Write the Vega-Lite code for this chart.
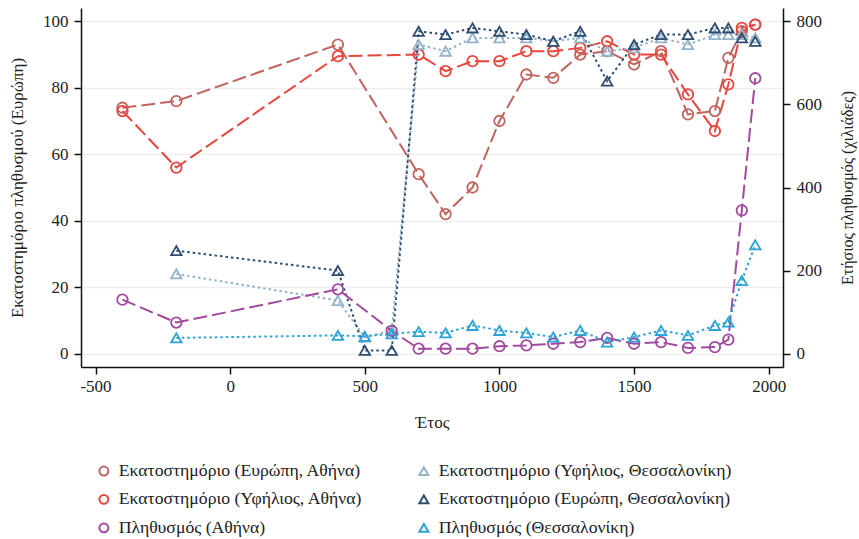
{
  "$schema": "https://vega.github.io/schema/vega-lite/v6.json",
  "width": 702,
  "height": 359,
  "autosize": {"type": "none"},
  "padding": {"left": 81, "top": 8, "right": 76, "bottom": 172},
  "background": "white",
  "config": {
    "font": "Liberation Serif",
    "view": {"stroke": null},
    "axis": {
      "labelFont": "Liberation Serif",
      "titleFont": "Liberation Serif",
      "labelFontSize": 17,
      "titleFontSize": 17,
      "titleFontWeight": "normal",
      "labelColor": "#222222",
      "titleColor": "#222222",
      "domainColor": "#111111",
      "domainWidth": 1.5,
      "tickColor": "#111111",
      "tickWidth": 1.5,
      "tickSize": 7,
      "grid": false
    }
  },
  "datasets": {
    "pct": [
      {"s": "Εκατοστημόριο (Ευρώπη, Αθήνα)", "city": "Αθήνα", "year": -400, "v": 74},
      {"s": "Εκατοστημόριο (Ευρώπη, Αθήνα)", "city": "Αθήνα", "year": -200, "v": 76},
      {"s": "Εκατοστημόριο (Ευρώπη, Αθήνα)", "city": "Αθήνα", "year": 400, "v": 93},
      {"s": "Εκατοστημόριο (Ευρώπη, Αθήνα)", "city": "Αθήνα", "year": 700, "v": 54},
      {"s": "Εκατοστημόριο (Ευρώπη, Αθήνα)", "city": "Αθήνα", "year": 800, "v": 42},
      {"s": "Εκατοστημόριο (Ευρώπη, Αθήνα)", "city": "Αθήνα", "year": 900, "v": 50},
      {"s": "Εκατοστημόριο (Ευρώπη, Αθήνα)", "city": "Αθήνα", "year": 1000, "v": 70},
      {"s": "Εκατοστημόριο (Ευρώπη, Αθήνα)", "city": "Αθήνα", "year": 1100, "v": 84},
      {"s": "Εκατοστημόριο (Ευρώπη, Αθήνα)", "city": "Αθήνα", "year": 1200, "v": 83},
      {"s": "Εκατοστημόριο (Ευρώπη, Αθήνα)", "city": "Αθήνα", "year": 1300, "v": 90},
      {"s": "Εκατοστημόριο (Ευρώπη, Αθήνα)", "city": "Αθήνα", "year": 1400, "v": 91},
      {"s": "Εκατοστημόριο (Ευρώπη, Αθήνα)", "city": "Αθήνα", "year": 1500, "v": 87},
      {"s": "Εκατοστημόριο (Ευρώπη, Αθήνα)", "city": "Αθήνα", "year": 1600, "v": 91},
      {"s": "Εκατοστημόριο (Ευρώπη, Αθήνα)", "city": "Αθήνα", "year": 1700, "v": 72},
      {"s": "Εκατοστημόριο (Ευρώπη, Αθήνα)", "city": "Αθήνα", "year": 1800, "v": 73},
      {"s": "Εκατοστημόριο (Ευρώπη, Αθήνα)", "city": "Αθήνα", "year": 1850, "v": 89},
      {"s": "Εκατοστημόριο (Ευρώπη, Αθήνα)", "city": "Αθήνα", "year": 1900, "v": 97},
      {"s": "Εκατοστημόριο (Ευρώπη, Αθήνα)", "city": "Αθήνα", "year": 1950, "v": 99},
      {"s": "Εκατοστημόριο (Υφήλιος, Αθήνα)", "city": "Αθήνα", "year": -400, "v": 73},
      {"s": "Εκατοστημόριο (Υφήλιος, Αθήνα)", "city": "Αθήνα", "year": -200, "v": 56},
      {"s": "Εκατοστημόριο (Υφήλιος, Αθήνα)", "city": "Αθήνα", "year": 400, "v": 89.5},
      {"s": "Εκατοστημόριο (Υφήλιος, Αθήνα)", "city": "Αθήνα", "year": 700, "v": 90},
      {"s": "Εκατοστημόριο (Υφήλιος, Αθήνα)", "city": "Αθήνα", "year": 800, "v": 85},
      {"s": "Εκατοστημόριο (Υφήλιος, Αθήνα)", "city": "Αθήνα", "year": 900, "v": 88},
      {"s": "Εκατοστημόριο (Υφήλιος, Αθήνα)", "city": "Αθήνα", "year": 1000, "v": 88},
      {"s": "Εκατοστημόριο (Υφήλιος, Αθήνα)", "city": "Αθήνα", "year": 1100, "v": 91},
      {"s": "Εκατοστημόριο (Υφήλιος, Αθήνα)", "city": "Αθήνα", "year": 1200, "v": 91},
      {"s": "Εκατοστημόριο (Υφήλιος, Αθήνα)", "city": "Αθήνα", "year": 1300, "v": 92},
      {"s": "Εκατοστημόριο (Υφήλιος, Αθήνα)", "city": "Αθήνα", "year": 1400, "v": 94},
      {"s": "Εκατοστημόριο (Υφήλιος, Αθήνα)", "city": "Αθήνα", "year": 1500, "v": 90},
      {"s": "Εκατοστημόριο (Υφήλιος, Αθήνα)", "city": "Αθήνα", "year": 1600, "v": 90},
      {"s": "Εκατοστημόριο (Υφήλιος, Αθήνα)", "city": "Αθήνα", "year": 1700, "v": 78},
      {"s": "Εκατοστημόριο (Υφήλιος, Αθήνα)", "city": "Αθήνα", "year": 1800, "v": 67},
      {"s": "Εκατοστημόριο (Υφήλιος, Αθήνα)", "city": "Αθήνα", "year": 1850, "v": 81},
      {"s": "Εκατοστημόριο (Υφήλιος, Αθήνα)", "city": "Αθήνα", "year": 1900, "v": 98},
      {"s": "Εκατοστημόριο (Υφήλιος, Αθήνα)", "city": "Αθήνα", "year": 1950, "v": 99},
      {"s": "Εκατοστημόριο (Υφήλιος, Θεσσαλονίκη)", "city": "Θεσσαλονίκη", "year": -200, "v": 24},
      {"s": "Εκατοστημόριο (Υφήλιος, Θεσσαλονίκη)", "city": "Θεσσαλονίκη", "year": 400, "v": 16},
      {"s": "Εκατοστημόριο (Υφήλιος, Θεσσαλονίκη)", "city": "Θεσσαλονίκη", "year": 500, "v": 5},
      {"s": "Εκατοστημόριο (Υφήλιος, Θεσσαλονίκη)", "city": "Θεσσαλονίκη", "year": 600, "v": 7},
      {"s": "Εκατοστημόριο (Υφήλιος, Θεσσαλονίκη)", "city": "Θεσσαλονίκη", "year": 700, "v": 93},
      {"s": "Εκατοστημόριο (Υφήλιος, Θεσσαλονίκη)", "city": "Θεσσαλονίκη", "year": 800, "v": 91},
      {"s": "Εκατοστημόριο (Υφήλιος, Θεσσαλονίκη)", "city": "Θεσσαλονίκη", "year": 900, "v": 95},
      {"s": "Εκατοστημόριο (Υφήλιος, Θεσσαλονίκη)", "city": "Θεσσαλονίκη", "year": 1000, "v": 95},
      {"s": "Εκατοστημόριο (Υφήλιος, Θεσσαλονίκη)", "city": "Θεσσαλονίκη", "year": 1100, "v": 95},
      {"s": "Εκατοστημόριο (Υφήλιος, Θεσσαλονίκη)", "city": "Θεσσαλονίκη", "year": 1200, "v": 94},
      {"s": "Εκατοστημόριο (Υφήλιος, Θεσσαλονίκη)", "city": "Θεσσαλονίκη", "year": 1300, "v": 95},
      {"s": "Εκατοστημόριο (Υφήλιος, Θεσσαλονίκη)", "city": "Θεσσαλονίκη", "year": 1400, "v": 91},
      {"s": "Εκατοστημόριο (Υφήλιος, Θεσσαλονίκη)", "city": "Θεσσαλονίκη", "year": 1500, "v": 92},
      {"s": "Εκατοστημόριο (Υφήλιος, Θεσσαλονίκη)", "city": "Θεσσαλονίκη", "year": 1600, "v": 95},
      {"s": "Εκατοστημόριο (Υφήλιος, Θεσσαλονίκη)", "city": "Θεσσαλονίκη", "year": 1700, "v": 93},
      {"s": "Εκατοστημόριο (Υφήλιος, Θεσσαλονίκη)", "city": "Θεσσαλονίκη", "year": 1800, "v": 96},
      {"s": "Εκατοστημόριο (Υφήλιος, Θεσσαλονίκη)", "city": "Θεσσαλονίκη", "year": 1850, "v": 96},
      {"s": "Εκατοστημόριο (Υφήλιος, Θεσσαλονίκη)", "city": "Θεσσαλονίκη", "year": 1900, "v": 96},
      {"s": "Εκατοστημόριο (Υφήλιος, Θεσσαλονίκη)", "city": "Θεσσαλονίκη", "year": 1950, "v": 95},
      {"s": "Εκατοστημόριο (Ευρώπη, Θεσσαλονίκη)", "city": "Θεσσαλονίκη", "year": -200, "v": 31},
      {"s": "Εκατοστημόριο (Ευρώπη, Θεσσαλονίκη)", "city": "Θεσσαλονίκη", "year": 400, "v": 25},
      {"s": "Εκατοστημόριο (Ευρώπη, Θεσσαλονίκη)", "city": "Θεσσαλονίκη", "year": 500, "v": 1},
      {"s": "Εκατοστημόριο (Ευρώπη, Θεσσαλονίκη)", "city": "Θεσσαλονίκη", "year": 600, "v": 1},
      {"s": "Εκατοστημόριο (Ευρώπη, Θεσσαλονίκη)", "city": "Θεσσαλονίκη", "year": 700, "v": 97},
      {"s": "Εκατοστημόριο (Ευρώπη, Θεσσαλονίκη)", "city": "Θεσσαλονίκη", "year": 800, "v": 96},
      {"s": "Εκατοστημόριο (Ευρώπη, Θεσσαλονίκη)", "city": "Θεσσαλονίκη", "year": 900, "v": 98},
      {"s": "Εκατοστημόριο (Ευρώπη, Θεσσαλονίκη)", "city": "Θεσσαλονίκη", "year": 1000, "v": 97},
      {"s": "Εκατοστημόριο (Ευρώπη, Θεσσαλονίκη)", "city": "Θεσσαλονίκη", "year": 1100, "v": 96},
      {"s": "Εκατοστημόριο (Ευρώπη, Θεσσαλονίκη)", "city": "Θεσσαλονίκη", "year": 1200, "v": 94},
      {"s": "Εκατοστημόριο (Ευρώπη, Θεσσαλονίκη)", "city": "Θεσσαλονίκη", "year": 1300, "v": 97},
      {"s": "Εκατοστημόριο (Ευρώπη, Θεσσαλονίκη)", "city": "Θεσσαλονίκη", "year": 1400, "v": 82},
      {"s": "Εκατοστημόριο (Ευρώπη, Θεσσαλονίκη)", "city": "Θεσσαλονίκη", "year": 1500, "v": 93},
      {"s": "Εκατοστημόριο (Ευρώπη, Θεσσαλονίκη)", "city": "Θεσσαλονίκη", "year": 1600, "v": 96},
      {"s": "Εκατοστημόριο (Ευρώπη, Θεσσαλονίκη)", "city": "Θεσσαλονίκη", "year": 1700, "v": 96},
      {"s": "Εκατοστημόριο (Ευρώπη, Θεσσαλονίκη)", "city": "Θεσσαλονίκη", "year": 1800, "v": 98},
      {"s": "Εκατοστημόριο (Ευρώπη, Θεσσαλονίκη)", "city": "Θεσσαλονίκη", "year": 1850, "v": 98},
      {"s": "Εκατοστημόριο (Ευρώπη, Θεσσαλονίκη)", "city": "Θεσσαλονίκη", "year": 1900, "v": 95},
      {"s": "Εκατοστημόριο (Ευρώπη, Θεσσαλονίκη)", "city": "Θεσσαλονίκη", "year": 1950, "v": 94}
    ],
    "pop": [
      {"s": "Πληθυσμός (Αθήνα)", "city": "Αθήνα", "year": -400, "v": 130},
      {"s": "Πληθυσμός (Αθήνα)", "city": "Αθήνα", "year": -200, "v": 75},
      {"s": "Πληθυσμός (Αθήνα)", "city": "Αθήνα", "year": 400, "v": 155},
      {"s": "Πληθυσμός (Αθήνα)", "city": "Αθήνα", "year": 600, "v": 55},
      {"s": "Πληθυσμός (Αθήνα)", "city": "Αθήνα", "year": 700, "v": 12},
      {"s": "Πληθυσμός (Αθήνα)", "city": "Αθήνα", "year": 800, "v": 12},
      {"s": "Πληθυσμός (Αθήνα)", "city": "Αθήνα", "year": 900, "v": 12},
      {"s": "Πληθυσμός (Αθήνα)", "city": "Αθήνα", "year": 1000, "v": 18},
      {"s": "Πληθυσμός (Αθήνα)", "city": "Αθήνα", "year": 1100, "v": 20},
      {"s": "Πληθυσμός (Αθήνα)", "city": "Αθήνα", "year": 1200, "v": 24},
      {"s": "Πληθυσμός (Αθήνα)", "city": "Αθήνα", "year": 1300, "v": 28},
      {"s": "Πληθυσμός (Αθήνα)", "city": "Αθήνα", "year": 1400, "v": 38},
      {"s": "Πληθυσμός (Αθήνα)", "city": "Αθήνα", "year": 1500, "v": 24},
      {"s": "Πληθυσμός (Αθήνα)", "city": "Αθήνα", "year": 1600, "v": 28},
      {"s": "Πληθυσμός (Αθήνα)", "city": "Αθήνα", "year": 1700, "v": 14},
      {"s": "Πληθυσμός (Αθήνα)", "city": "Αθήνα", "year": 1800, "v": 16},
      {"s": "Πληθυσμός (Αθήνα)", "city": "Αθήνα", "year": 1850, "v": 34},
      {"s": "Πληθυσμός (Αθήνα)", "city": "Αθήνα", "year": 1900, "v": 345},
      {"s": "Πληθυσμός (Αθήνα)", "city": "Αθήνα", "year": 1950, "v": 663},
      {"s": "Πληθυσμός (Θεσσαλονίκη)", "city": "Θεσσαλονίκη", "year": -200, "v": 38},
      {"s": "Πληθυσμός (Θεσσαλονίκη)", "city": "Θεσσαλονίκη", "year": 400, "v": 44},
      {"s": "Πληθυσμός (Θεσσαλονίκη)", "city": "Θεσσαλονίκη", "year": 500, "v": 42},
      {"s": "Πληθυσμός (Θεσσαλονίκη)", "city": "Θεσσαλονίκη", "year": 600, "v": 48},
      {"s": "Πληθυσμός (Θεσσαλονίκη)", "city": "Θεσσαλονίκη", "year": 700, "v": 53},
      {"s": "Πληθυσμός (Θεσσαλονίκη)", "city": "Θεσσαλονίκη", "year": 800, "v": 50},
      {"s": "Πληθυσμός (Θεσσαλονίκη)", "city": "Θεσσαλονίκη", "year": 900, "v": 68},
      {"s": "Πληθυσμός (Θεσσαλονίκη)", "city": "Θεσσαλονίκη", "year": 1000, "v": 56},
      {"s": "Πληθυσμός (Θεσσαλονίκη)", "city": "Θεσσαλονίκη", "year": 1100, "v": 50},
      {"s": "Πληθυσμός (Θεσσαλονίκη)", "city": "Θεσσαλονίκη", "year": 1200, "v": 40},
      {"s": "Πληθυσμός (Θεσσαλονίκη)", "city": "Θεσσαλονίκη", "year": 1300, "v": 56},
      {"s": "Πληθυσμός (Θεσσαλονίκη)", "city": "Θεσσαλονίκη", "year": 1400, "v": 28},
      {"s": "Πληθυσμός (Θεσσαλονίκη)", "city": "Θεσσαλονίκη", "year": 1500, "v": 40},
      {"s": "Πληθυσμός (Θεσσαλονίκη)", "city": "Θεσσαλονίκη", "year": 1600, "v": 56},
      {"s": "Πληθυσμός (Θεσσαλονίκη)", "city": "Θεσσαλονίκη", "year": 1700, "v": 44},
      {"s": "Πληθυσμός (Θεσσαλονίκη)", "city": "Θεσσαλονίκη", "year": 1800, "v": 68},
      {"s": "Πληθυσμός (Θεσσαλονίκη)", "city": "Θεσσαλονίκη", "year": 1850, "v": 76},
      {"s": "Πληθυσμός (Θεσσαλονίκη)", "city": "Θεσσαλονίκη", "year": 1900, "v": 176},
      {"s": "Πληθυσμός (Θεσσαλονίκη)", "city": "Θεσσαλονίκη", "year": 1950, "v": 262}
    ]
  },
  "layer": [
    {
      "data": {"name": "pct"},
      "encoding": {
        "x": {
          "field": "year", "type": "quantitative",
          "scale": {"domain": [-554, 2053], "nice": false, "zero": false},
          "axis": {"values": [-500, 0, 500, 1000, 1500, 2000], "title": "Έτος", "labelExpr": "'' + datum.value", "labelPadding": 4, "titlePadding": 20}
        },
        "y": {
          "field": "v", "type": "quantitative",
          "scale": {"domain": [-4, 104], "nice": false, "zero": false},
          "axis": {"values": [0, 20, 40, 60, 80, 100], "title": "Εκατοστημόριο πληθυσμού (Ευρώπη)", "labelPadding": 6, "titlePadding": 16, "grid": true, "gridColor": "#eeeeee", "gridWidth": 1.5}
        }
      },
      "layer": [
        {
          "mark": {"type": "line", "strokeWidth": 2},
          "encoding": {
            "order": {"field": "year", "type": "quantitative"},
            "stroke": {
              "field": "s", "type": "nominal",
              "scale": {
                "domain": ["Πληθυσμός (Θεσσαλονίκη)", "Εκατοστημόριο (Ευρώπη, Θεσσαλονίκη)", "Εκατοστημόριο (Υφήλιος, Θεσσαλονίκη)", "Πληθυσμός (Αθήνα)", "Εκατοστημόριο (Υφήλιος, Αθήνα)", "Εκατοστημόριο (Ευρώπη, Αθήνα)"],
                "range": ["#2ba3d6", "#2f4d6f", "#93b3c9", "#a24a9e", "#e8453c", "#c0645e"]
              },
              "legend": null
            },
            "strokeDash": {"field": "city", "type": "nominal", "scale": {"domain": ["Αθήνα", "Θεσσαλονίκη"], "range": [[14, 5], [2.5, 3]]}, "legend": null}
          }
        },
        {
          "mark": {"type": "point", "filled": false, "size": 110, "strokeWidth": 1.8, "opacity": 1},
          "encoding": {
            "color": {"field": "s", "type": "nominal"},
            "shape": {"field": "s", "type": "nominal"}
          }
        }
      ]
    },
    {
      "data": {"name": "pop"},
      "encoding": {
        "x": {"field": "year", "type": "quantitative"},
        "y": {
          "field": "v", "type": "quantitative",
          "scale": {"domain": [-32, 832], "nice": false, "zero": false},
          "axis": {"values": [0, 200, 400, 600, 800], "title": "Ετήσιος πληθυσμός (χιλιάδες)", "orient": "right", "labelPadding": 6, "titleAngle": -90, "titleBaseline": "top", "titleFontSize": 16, "titlePadding": 18}
        }
      },
      "layer": [
        {
          "mark": {"type": "line", "strokeWidth": 2},
          "encoding": {
            "order": {"field": "year", "type": "quantitative"},
            "stroke": {"field": "s", "type": "nominal", "legend": null},
            "strokeDash": {"field": "city", "type": "nominal", "legend": null}
          }
        },
        {
          "mark": {"type": "point", "filled": false, "size": 110, "strokeWidth": 1.8, "opacity": 1},
          "encoding": {
            "color": {
              "field": "s", "type": "nominal",
              "scale": {
                "domain": ["Εκατοστημόριο (Ευρώπη, Αθήνα)", "Εκατοστημόριο (Υφήλιος, Αθήνα)", "Πληθυσμός (Αθήνα)", "Εκατοστημόριο (Υφήλιος, Θεσσαλονίκη)", "Εκατοστημόριο (Ευρώπη, Θεσσαλονίκη)", "Πληθυσμός (Θεσσαλονίκη)"],
                "range": ["#c0645e", "#e8453c", "#a24a9e", "#93b3c9", "#2f4d6f", "#2ba3d6"]
              },
              "legend": {
                "title": null, "orient": "none", "legendX": 14, "legendY": 454, "columns": 2,
                "columnPadding": 52, "rowPadding": 9.5, "labelFont": "Liberation Serif", "labelFontSize": 17.7,
                "labelColor": "#222222", "symbolSize": 80, "symbolStrokeWidth": 2, "labelOffset": 6, "labelLimit": 400
              }
            },
            "shape": {
              "field": "s", "type": "nominal",
              "scale": {
                "domain": ["Εκατοστημόριο (Ευρώπη, Αθήνα)", "Εκατοστημόριο (Υφήλιος, Αθήνα)", "Πληθυσμός (Αθήνα)", "Εκατοστημόριο (Υφήλιος, Θεσσαλονίκη)", "Εκατοστημόριο (Ευρώπη, Θεσσαλονίκη)", "Πληθυσμός (Θεσσαλονίκη)"],
                "range": ["circle", "circle", "circle", "triangle-up", "triangle-up", "triangle-up"]
              },
              "legend": {"title": null}
            }
          }
        }
      ]
    }
  ],
  "resolve": {"scale": {"y": "independent"}, "axis": {"y": "independent"}}
}
